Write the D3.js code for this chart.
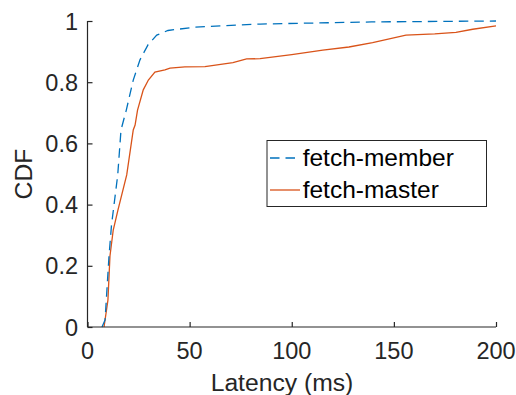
<!DOCTYPE html>
<html>
<head>
<meta charset="utf-8">
<script src="https://cdn.jsdelivr.net/npm/d3@7"></script>
<style>
body { margin: 0; background: #fff; }
text { font-family: "Liberation Sans", Arial, sans-serif; }
</style>
</head>
<body>
<script>
// CDF curves: latency (ms) and cumulative fraction
let memberMs  = [7.1, 8.6, 10.5, 11.75, 14.8, 16.4, 19.0, 22.4, 25.7, 29.6, 33.9, 39.4, 52.6, 84.5, 139, 200]
let memberCdf = [0, 0.023, 0.229, 0.333, 0.497, 0.644, 0.709, 0.807, 0.873, 0.922, 0.954, 0.969, 0.980, 0.990, 0.997, 1.0]

let masterMs  = [8.1, 10.0, 11.0, 12.6, 14.9, 19.2, 22.4, 23.3, 24.5, 27.3, 29.8, 33.0, 37.9, 40.4, 47.7, 57.5, 71.2, 77.9, 84.5, 100, 115.2, 128, 139.6, 155.9, 170, 180.4, 188.6, 200]
let masterCdf = [0, 0.088, 0.232, 0.317, 0.382, 0.497, 0.644, 0.660, 0.709, 0.775, 0.807, 0.833, 0.840, 0.846, 0.850, 0.851, 0.864, 0.876, 0.877, 0.890, 0.905, 0.915, 0.929, 0.954, 0.958, 0.963, 0.973, 0.984]

let xTicks = [0, 50, 100, 150, 200]
let yTicks = [0, 0.2, 0.4, 0.6, 0.8, 1]
let seriesNames = ['fetch-member', 'fetch-master']
let seriesColors = ['#0072BD', '#D95319']

let width = 516
let height = 395
let plotLeft = 87.5, plotRight = 496, plotTop = 21, plotBottom = 327

let svg = d3.select('body')
    .append('svg')
    .attr('width', width)
    .attr('height', height)

let xScale = d3.scaleLinear().domain([0, 200]).range([plotLeft, plotRight])
let yScale = d3.scaleLinear().domain([0, 1]).range([plotBottom, plotTop])

let line = d3.line()
    .x(d => xScale(d[0]))
    .y(d => yScale(d[1]))

// curves
let member = memberMs.map((m, i) => [m, memberCdf[i]])
let master = masterMs.map((m, i) => [m, masterCdf[i]])

svg.append('path')
    .datum(master)
    .attr('d', line)
    .attr('fill', 'none')
    .attr('stroke', seriesColors[1])
    .attr('stroke-width', 1.3)

svg.append('path')
    .datum(member)
    .attr('d', line)
    .attr('fill', 'none')
    .attr('stroke', seriesColors[0])
    .attr('stroke-width', 1.3)
    .attr('stroke-dasharray', '9.5,6')

// axes, ticks pointing inward like matlab
let xAxis = d3.axisTop(xScale).tickValues(xTicks).tickSize(5).tickFormat('')
let yAxis = d3.axisRight(yScale).tickValues(yTicks).tickSize(5).tickFormat('')

let gx = svg.append('g').attr('transform', 'translate(0,' + plotBottom + ')').call(xAxis)
let gy = svg.append('g').attr('transform', 'translate(' + plotLeft + ',0)').call(yAxis)
gx.select('.domain').attr('d', 'M' + plotLeft + ',0H' + plotRight)
gy.select('.domain').attr('d', 'M0,' + plotBottom + 'V' + plotTop)
svg.selectAll('.domain, .tick line').attr('stroke', '#262626').attr('stroke-width', 1.2)

// tick labels
svg.selectAll('.xlab')
    .data(xTicks)
    .enter().append('text')
    .attr('x', d => xScale(d))
    .attr('y', 359)
    .attr('text-anchor', 'middle')
    .attr('font-size', 23.5)
    .attr('fill', '#262626')
    .text(d => d)

svg.selectAll('.ylab')
    .data(yTicks)
    .enter().append('text')
    .attr('x', 78)
    .attr('y', d => yScale(d) + 8.5)
    .attr('text-anchor', 'end')
    .attr('font-size', 23.5)
    .attr('fill', '#262626')
    .text(d => d)

// axis titles
svg.append('text')
    .attr('x', 282)
    .attr('y', 391)
    .attr('text-anchor', 'middle')
    .attr('font-size', 24.7)
    .attr('fill', '#262626')
    .text('Latency (ms)')

svg.append('text')
    .attr('transform', 'translate(32,' + (plotTop + plotBottom) / 2 + ') rotate(-90)')
    .attr('text-anchor', 'middle')
    .attr('font-size', 24.7)
    .attr('fill', '#262626')
    .text('CDF')

// legend
let legend = svg.append('g')
legend.append('rect')
    .attr('x', 267).attr('y', 140.5)
    .attr('width', 219.5).attr('height', 66)
    .attr('fill', '#fff')
    .attr('stroke', '#262626')
    .attr('stroke-width', 1)

seriesNames.forEach((name, i) => {
    let ly = 158 + i * 32
    legend.append('line')
        .attr('x1', 270).attr('x2', 300)
        .attr('y1', ly).attr('y2', ly)
        .attr('stroke', seriesColors[i])
        .attr('stroke-width', 1.3)
        .attr('stroke-dasharray', i === 0 ? '9.5,6' : null)
    legend.append('text')
        .attr('x', 302.7)
        .attr('y', ly + 8)
        .attr('font-size', 24.5)
        .attr('fill', '#000')
        .text(name)
})
</script>
</body>
</html>
